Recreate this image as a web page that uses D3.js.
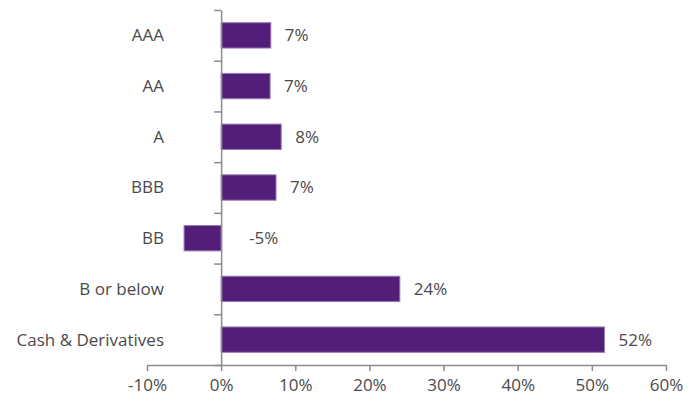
<!DOCTYPE html>
<html>
<head>
<meta charset="utf-8">
<script src="https://cdn.jsdelivr.net/npm/d3@7"></script>
<style>
  body { margin: 0; background: #fff; }
  svg text { font-family: "Open Sans", "Noto Sans", sans-serif; fill: #4a4a4a; }
  .axis path, .axis line { stroke: #8c8c8c; stroke-width: 1.5; }
</style>
</head>
<body>
<div id="chart"></div>
<script>
const categories = ['AAA', 'AA', 'A', 'BBB', 'BB', 'B or below', 'Cash & Derivatives'];
const values = [6.7, 6.6, 8.1, 7.4, -5.0, 24.1, 51.7];
const valueLabels = ['7%', '7%', '8%', '7%', '-5%', '24%', '52%'];
const tickValues = [-10, 0, 10, 20, 30, 40, 50, 60];

const width = 700, height = 401;
const svg = d3.select('#chart').append('svg')
    .attr('width', width)
    .attr('height', height);

const x = d3.scaleLinear()
    .domain([-10, 60])
    .range([147, 666]);

const y = d3.scaleBand()
    .domain(categories)
    .range([10, 365])
    .paddingInner(0.5)
    .paddingOuter(0.25);

// bars
svg.selectAll('.bar')
    .data(values)
    .enter().append('rect')
    .attr('class', 'bar')
    .attr('x', d => x(Math.min(d, 0)))
    .attr('y', (d, i) => y(categories[i]))
    .attr('width', d => Math.abs(x(d) - x(0)))
    .attr('height', y.bandwidth())
    .attr('fill', '#531e7a')
    .attr('stroke', '#9a7ab4')
    .attr('stroke-width', 1);

// x axis
const xAxis = svg.append('g')
    .attr('class', 'axis')
    .attr('transform', 'translate(0,365)')
    .call(d3.axisBottom(x)
        .tickValues(tickValues)
        .tickSize(6)
        .tickSizeOuter(0)
        .tickPadding(8)
        .tickFormat(d => d + '%'));
xAxis.selectAll('text')
    .style('font-size', '17px')
    .attr('fill', '#4a4a4a');

// category axis (ticks at band boundaries)
const yb = d3.scaleLinear().domain([0, categories.length]).range([10, 365]);
svg.append('g')
    .attr('class', 'axis')
    .attr('transform', `translate(${x(0)},0)`)
    .call(d3.axisLeft(yb)
        .ticks(categories.length)
        .tickSize(7)
        .tickSizeOuter(0)
        .tickFormat(''));

// category labels
svg.selectAll('.cat-label')
    .data(categories)
    .enter().append('text')
    .attr('class', 'cat-label')
    .attr('x', 164)
    .attr('y', d => y(d) + y.bandwidth() / 2)
    .attr('dy', '0.35em')
    .attr('text-anchor', 'end')
    .style('font-size', '17px')
    .text(d => d);

// value labels
svg.selectAll('.val-label')
    .data(values)
    .enter().append('text')
    .attr('class', 'val-label')
    .attr('x', d => d < 0 ? x(0) + 28 : x(d) + 14)
    .attr('y', (d, i) => y(categories[i]) + y.bandwidth() / 2)
    .attr('dy', '0.35em')
    .style('font-size', '17px')
    .text((d, i) => valueLabels[i]);
</script>
</body>
</html>
